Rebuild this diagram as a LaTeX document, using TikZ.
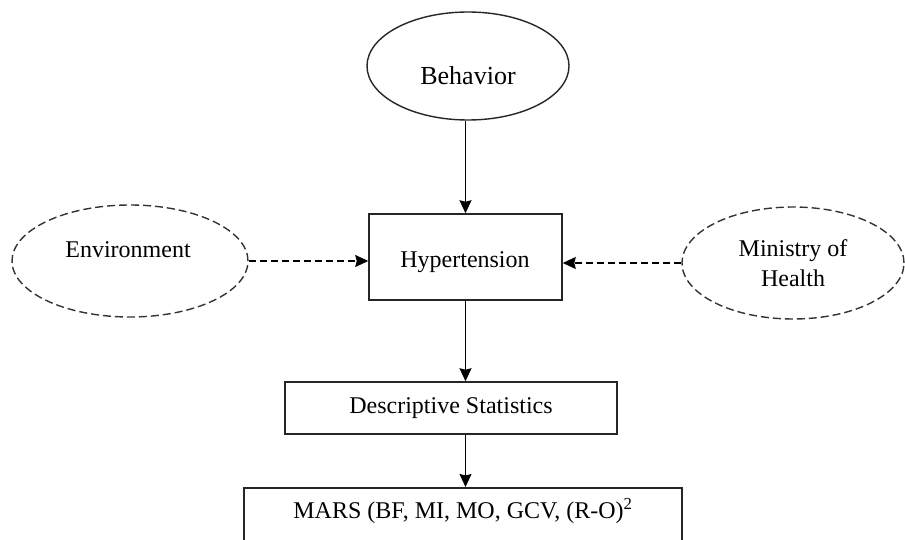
\documentclass[tikz,border=0pt]{standalone}
\usepackage{fontspec}
\setmainfont{Liberation Serif}
\usetikzlibrary{shapes.geometric,arrows.meta}
\begin{document}
\begin{tikzpicture}[x=1pt,y=-1pt,
  solidell/.style={ellipse,draw=black!85,line width=1.4pt,inner sep=0pt},
  dashell/.style={ellipse,draw=black!80,line width=1.4pt,inner sep=0pt,dash pattern=on 8pt off 4pt},
  boxnode/.style={rectangle,draw=black!85,line width=1.5pt,inner sep=0pt},
  lbl/.style={font=\fontsize{24}{30}\selectfont},
  arr/.style={line width=1.4pt,-{Stealth[length=13pt,width=12pt,inset=1.5pt]}},
  darr/.style={arr,dash pattern=on 7pt off 4pt}]
\useasboundingbox (0,0) rectangle (905,540);
\clip (0,0) rectangle (905,540);
\fill[white] (0,0) rectangle (905,540);
\node[solidell,minimum width=202pt,minimum height=108pt] (beh) at (468,66) {};
\node[font=\fontsize{26}{30}\selectfont] (beht) at (468,76) {Behavior};
\node[boxnode,minimum width=193pt,minimum height=86pt] (hyp) at (465.5,257) {};
\node[lbl] (hypt) at (465,262) {Hypertension};
\node[dashell,minimum width=236pt,minimum height=112pt] (env) at (130,261) {};
\node[lbl] (envt) at (128,250) {Environment};
\node[dashell,minimum width=222pt,minimum height=112pt,lbl,align=center] (min) at (793,263) {Ministry of\\Health};
\node[boxnode,minimum width=332pt,minimum height=52pt,lbl] (desc) at (451,408) {Descriptive Statistics};
\node[boxnode,anchor=north,minimum width=438pt,inner ysep=10pt,text height=21pt,text depth=60pt,lbl] (mars) at (463,487) {MARS (BF, MI, MO, GCV, (R-O)\textsuperscript{2}};
\draw[arr] (hyp.north |- beh.south) -- (hyp.north);
\draw[arr] (hyp.south) -- (hyp.south |- desc.north);
\draw[arr] (hyp.south |- desc.south) -- (hyp.south |- mars.north);
\draw[darr] (env.east) -- (env.east -| hyp.west);
\draw[darr] (min.west) -- (min.west -| hyp.east);
\end{tikzpicture}
\end{document}
